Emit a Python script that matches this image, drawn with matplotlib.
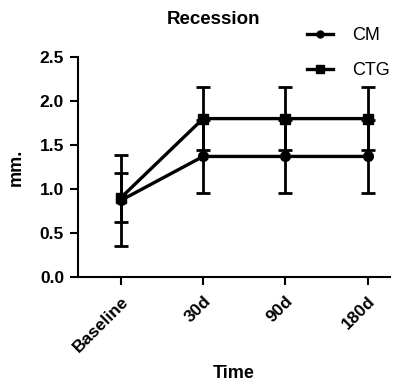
import matplotlib
matplotlib.use("Agg")
import matplotlib.pyplot as plt
from matplotlib.lines import Line2D
import numpy as np

categories = ["Baseline", "30d", "90d", "180d"]
cm_mean = [0.87, 1.37, 1.37, 1.37]
cm_sd = [0.515, 0.41, 0.41, 0.41]
ctg_mean = [0.90, 1.80, 1.80, 1.80]
ctg_sd = [0.28, 0.36, 0.36, 0.36]
y_ticks = [0.0, 0.5, 1.0, 1.5, 2.0, 2.5]

plt.rcParams['font.family'] = ['Liberation Sans', 'DejaVu Sans']

fig = plt.figure(figsize=(4.05, 3.85), dpi=100)
ax = fig.add_axes([78/405, 1 - 277/385, (390-78)/405, (277-57)/385])

x = np.arange(len(categories))
lw = 2.4
ax.errorbar(x, cm_mean, yerr=cm_sd, color='black', lw=lw, elinewidth=2.0,
            capsize=5, capthick=2.0, marker='o', markersize=7, zorder=3,
            clip_on=False)
ax.errorbar(x, ctg_mean, yerr=ctg_sd, color='black', lw=lw, elinewidth=2.0,
            capsize=5, capthick=2.0, marker='s', markersize=7, zorder=3,
            clip_on=False)

ax.set_xlim(-0.52, 3.27)
ax.set_ylim(0, 2.5)
ax.set_yticks(y_ticks)
ax.set_yticklabels([f"{v:.1f}" for v in y_ticks], fontsize=12.5, fontweight='bold')
ax.set_xticks(x)
ax.set_xticklabels(categories, rotation=45, ha='right', rotation_mode='anchor',
                   fontsize=12.5, fontweight='bold')
ax.spines['top'].set_visible(False)
ax.spines['right'].set_visible(False)
for s in ['left', 'bottom']:
    ax.spines[s].set_linewidth(1.5)
ax.tick_params(axis='both', width=1.5, length=6, direction='out')
ax.tick_params(axis='x', pad=6)
ax.tick_params(axis='y', pad=4)

ax.set_ylabel("mm.", fontsize=13, fontweight='bold', labelpad=11)
ax.set_xlabel("Time", fontsize=13, fontweight='bold', labelpad=7)
fig.text(213/405, 1 - 20/385, "Recession", ha='center', va='center',
         fontsize=13.5, fontweight='bold')

handles = [Line2D([], [], color='black', lw=lw, marker='o', markersize=5),
           Line2D([], [], color='black', lw=lw, marker='s', markersize=6)]
fig.legend(handles, ["CM", "CTG"], loc='upper left',
           bbox_to_anchor=(291/405, 1 - 11/385), frameon=False, fontsize=13,
           handlelength=1.4, labelspacing=1.0, handletextpad=1.1)

fig.savefig("out.png", dpi=100)
